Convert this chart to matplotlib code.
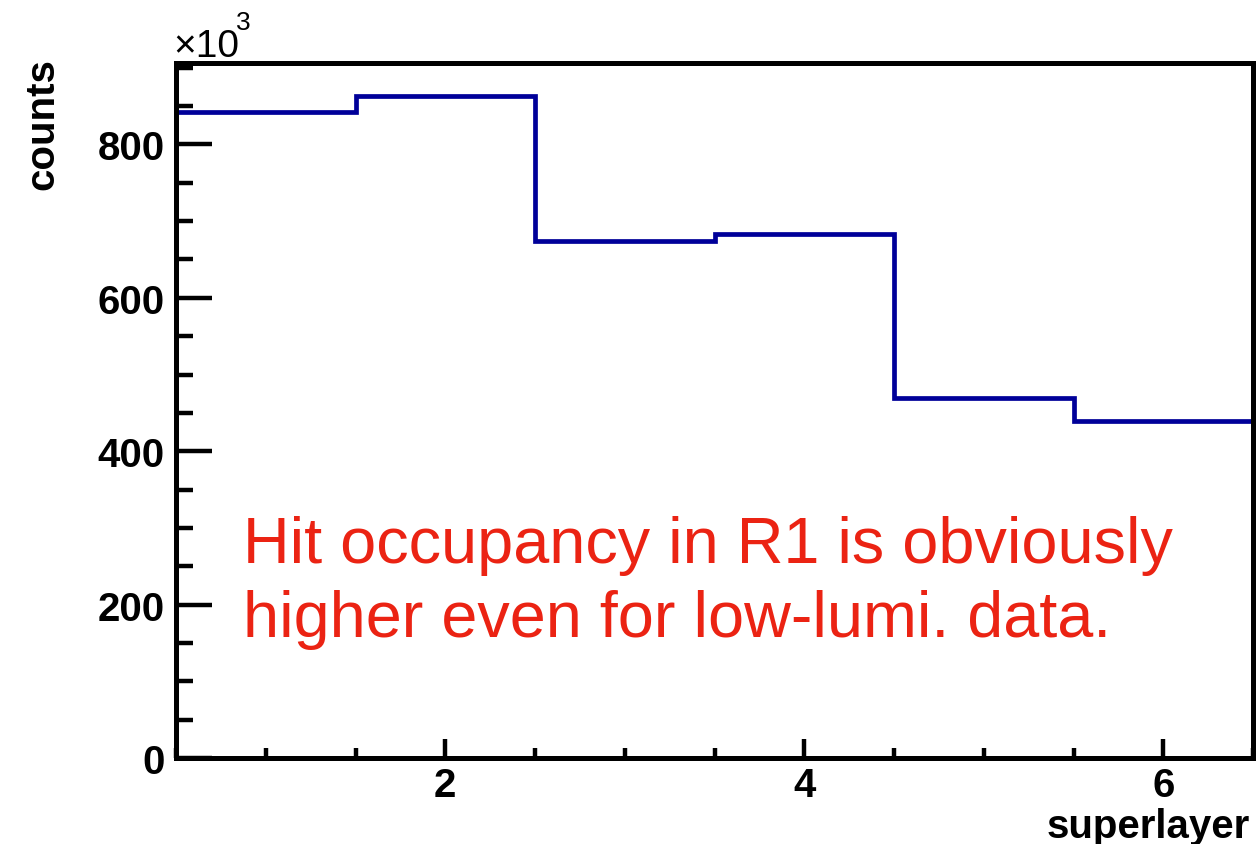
import matplotlib.pyplot as plt
import numpy as np
from matplotlib.ticker import MultipleLocator, FixedLocator

# hits per superlayer (in units of 10^3)
superlayer = [1, 2, 3, 4, 5, 6]
counts_k = [842, 863, 674, 683, 470, 440]
y_major = [0, 200, 400, 600, 800]
x_major = [2, 4, 6]

note_line1 = "Hit occupancy in R1 is obviously"
note_line2 = "higher even for low-lumi. data."

plt.rcParams['font.family'] = ['Liberation Sans', 'DejaVu Sans']

fig = plt.figure(figsize=(12.56, 8.45), dpi=100)
ax = fig.add_axes([176 / 1256, 1 - 759 / 845, (1253 - 176) / 1256, (759 - 64) / 845])

edges = np.append(np.array(superlayer) - 0.5, superlayer[-1] + 0.5)
ax.stairs(counts_k, edges, baseline=None, color='#000099', linewidth=3.4)

ax.set_xlim(edges[0], edges[-1])
ax.set_ylim(0, 1.05 * max(counts_k))

for s in ax.spines.values():
    s.set_linewidth(3.6)

ax.yaxis.set_major_locator(FixedLocator(y_major))
ax.yaxis.set_minor_locator(MultipleLocator(50))
ax.xaxis.set_major_locator(FixedLocator(x_major))
ax.xaxis.set_minor_locator(MultipleLocator(0.5))

ax.tick_params(axis='y', which='major', direction='in', length=26, width=3.2,
               labelsize=29, pad=8)
ax.tick_params(axis='y', which='minor', direction='in', length=12, width=3.2)
ax.tick_params(axis='x', which='major', direction='in', length=14, width=3.2,
               labelsize=29, pad=6)
ax.tick_params(axis='x', which='minor', direction='in', length=7, width=3.2)
for lab in ax.get_xticklabels() + ax.get_yticklabels():
    lab.set_fontweight('bold')

# axis titles placed ROOT-style
fig.text(42 / 1256, 1 - 58 / 845, "counts", rotation=90, ha='center', va='top',
         fontsize=29, fontweight='bold')
fig.text(1250 / 1256, 1 - 838 / 845, "superlayer", ha='right', va='baseline',
         fontsize=29, fontweight='bold')

# exponent label above the y axis
fig.text(173 / 1256, 1 - 57 / 845, "\u00d710", ha='left', va='baseline',
         fontsize=28)
fig.text(236 / 1256, 1 - 30 / 845, "3", ha='left', va='baseline', fontsize=19)

fig.text(243 / 1256, 1 - 563 / 845, note_line1, ha='left', va='baseline',
         fontsize=46.6, color='#eb2313')
fig.text(243 / 1256, 1 - 637 / 845, note_line2, ha='left', va='baseline',
         fontsize=46.6, color='#eb2313')

fig.savefig('out.png', dpi=100)
